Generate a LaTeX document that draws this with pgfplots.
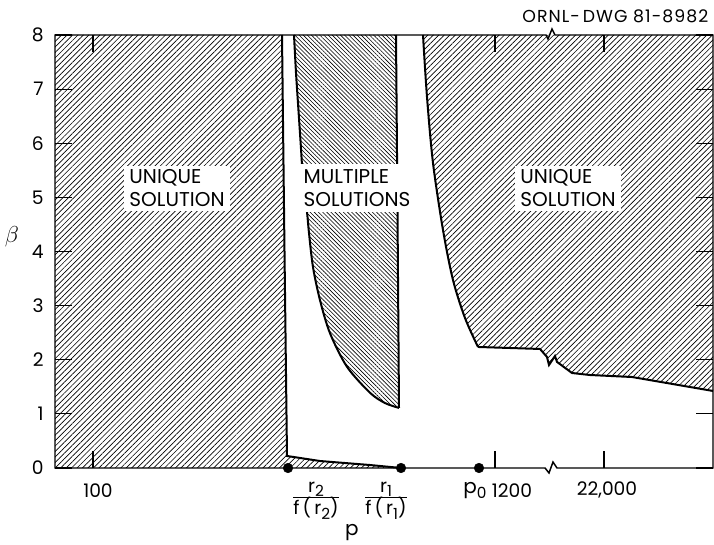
\documentclass[border=0pt]{standalone}
\usepackage{fontspec}
\setmainfont{Poppins}
\usepackage{pgfplots}
\pgfplotsset{compat=1.18}
\usetikzlibrary{patterns.meta}

% hatch styles for the two kinds of region
\tikzset{
  hatchNE/.style={pattern={Lines[angle=45,distance=2.9pt,line width=0.5pt]}},
  hatchNW/.style={pattern={Lines[angle=-45,distance=2.2pt,line width=0.45pt]}},
  boundary/.style={line width=1.5pt, black},
}
% lowered index in the lettering style
\newcommand{\idx}[1]{\raisebox{-0.45ex}{\fontsize{11.5}{11.5}\selectfont #1}}

\begin{document}
\begin{tikzpicture}
\begin{axis}[
  at={(41.25pt,57.75pt)}, anchor=south west,
  width=493.5pt, height=324.75pt, scale only axis,
  xmin=55, xmax=713, ymin=0, ymax=8,
  axis line style={draw=none},
  clip=false, axis on top,
  tick align=inside,
  major tick length=13pt,
  tick style={black, line width=0.9pt},
  xtick={93,495,604}, xticklabels={},
  ytick={0,...,8},
  yticklabel style={font=\fontsize{14}{14}\selectfont, xshift=-5pt},
  /pgf/number format/assume math mode=true,
]

% left region: unique solution
\addplot[draw=none, hatchNE] coordinates {
  (55,0) (55,8) (282,8) (284.5,4) (287,0.222) (320,0.129) (370,0.055) (401,0)
} -- cycle;
\addplot[boundary] coordinates {
  (282,8) (284.5,4) (287,0.222) (320,0.129) (370,0.055) (401,0)
};

% middle region: multiple solutions
\addplot[draw=none, hatchNW] coordinates {
  (294,8) (296,7.3) (298.5,6.6) (301,5.9) (303,5.3) (305,4.95) (307,4.73)
  (309,4.34) (313,3.71) (320,3.10) (330,2.49) (347,1.87) (370,1.39)
  (385,1.2) (399,1.11) (397.5,4.73) (396,8)
} -- cycle;
\addplot[boundary, smooth] coordinates {
  (294,8) (296,7.3) (298.5,6.6) (301,5.9) (303,5.3) (305,4.95) (307,4.73)
  (309,4.34) (313,3.71) (320,3.10) (330,2.49) (347,1.87) (370,1.39)
  (385,1.2) (399,1.11)
};
\addplot[boundary] coordinates {(399,1.11) (397.5,4.73) (396,8)};

% right region: unique solution
\addplot[draw=none, hatchNE] coordinates {
  (423,8) (427,6.854) (433,5.635) (443,4.397) (453,3.473) (465,2.771)
  (478,2.236) (540,2.199) (547,2.051) (549,1.903) (555,2.069) (557,1.96)
  (572,1.755) (590,1.718) (632,1.681) (713,1.423) (713,8)
} -- cycle;
\addplot[boundary, smooth] coordinates {
  (423,8) (427,6.854) (433,5.635) (443,4.397) (453,3.473) (465,2.771) (478,2.236)
};
\addplot[boundary] coordinates {
  (478,2.236) (540,2.199) (547,2.051) (549,1.903) (555,2.069) (557,1.96)
  (572,1.755) (590,1.718) (632,1.681) (713,1.423)
};

% frame with scale breaks
\draw[line width=1.1pt, line join=miter]
  (55,0) -- (55,8) -- (546,8) -- (548,7.926) -- (552,8.111) -- (555,8)
  -- (713,8) -- (713,0) -- (557,0) -- (553,0.111) -- (549,-0.092)
  -- (545,0) -- cycle;

% special points on the p axis
\addplot[only marks, mark=*, mark size=3.6pt, black] coordinates {
  (288,0) (401,0) (479,0)
};

% region labels
\node[fill=white, align=left, inner xsep=4pt, inner ysep=3pt,
      font=\fontsize{15}{17.25}\selectfont] at (177,5.17) {UNIQUE\\SOLUTION};
\node[fill=white, align=left, inner xsep=5pt, inner ysep=4pt,
      font=\fontsize{15}{17.25}\selectfont] at (357,5.17) {MULTIPLE\\SOLUTIONS};
\node[fill=white, align=left, inner xsep=4pt, inner ysep=3pt,
      font=\fontsize{15}{17.25}\selectfont] at (568,5.17) {UNIQUE\\SOLUTION};

% p axis labels
\node[font=\fontsize{14}{14}\selectfont] at (98,-0.41) {100};
\node[font=\fontsize{14}{14}\selectfont] at (512,-0.41) {1200};
\node[font=\fontsize{14}{14}\selectfont] at (607,-0.41) {22,000};
\node[font=\fontsize{15}{15}\selectfont] at (475,-0.41) {p\idx{0}};
\node[font=\fontsize{14}{15}\selectfont] at (316,-0.58)
  {\begin{tabular}{@{}c@{}}r\idx{2}\\[-1pt]\hline\rule{0pt}{13pt}f\,(\,r\idx{2})\end{tabular}};
\node[font=\fontsize{14}{15}\selectfont] at (386,-0.58)
  {\begin{tabular}{@{}c@{}}r\idx{1}\\[-1pt]\hline\rule{0pt}{13pt}f\,(\,r\idx{1})\end{tabular}};
\node[font=\fontsize{15}{15}\selectfont] at (352,-1.2) {p};
\node[font=\fontsize{17}{17}\selectfont] at (12,4.27) {$\beta$};
\node[anchor=east, font=\fontsize{13}{13}\selectfont\addfontfeature{LetterSpace=6}]
  at (713,8.351) {ORNL-\,DWG 81-8982};
\end{axis}
\pgfresetboundingbox
\path[use as bounding box] (0,0) rectangle (535.5pt,408.75pt);
\end{tikzpicture}
\end{document}
